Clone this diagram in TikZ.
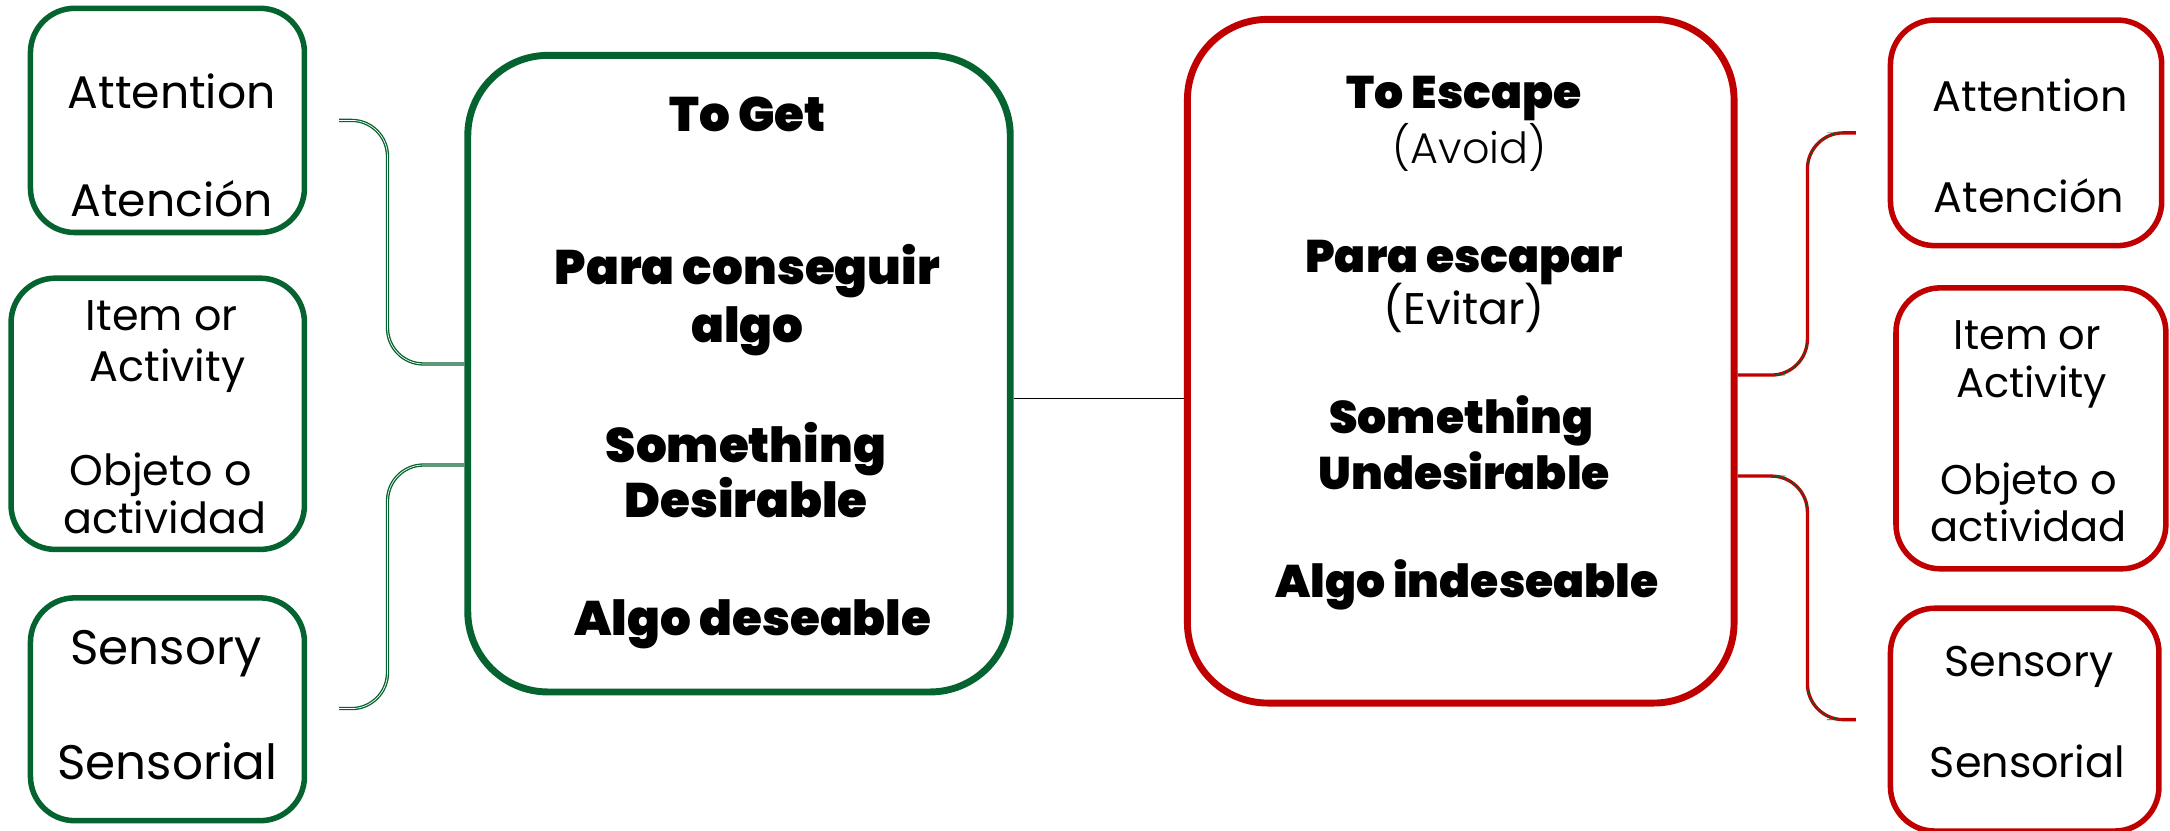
\documentclass[tikz,border=0pt]{standalone}
\usepackage{fontspec}
\setmainfont{Poppins}
\newfontfamily\heavyfont{Poppins Black}
\newfontfamily\lightfont{Poppins Light}
\definecolor{dgreen}{RGB}{4,99,47}
\definecolor{dred}{RGB}{192,0,0}
\tikzset{
  sidebox/.style={draw, line width=4pt, rounded corners=32pt, inner sep=0pt},
  mainbox/.style={draw, line width=5pt, rounded corners=58pt, inner sep=0pt},
  sidetext/.style={font=\fontsize{#1}{#1}\selectfont, text height=0.7*#1 pt, text depth=0pt, inner sep=0pt},
  sidetext/.default=33,
  headtext/.style={font=\heavyfont\fontsize{#1}{#1}\selectfont, text height=0.7*#1 pt, text depth=0pt, inner sep=0pt},
  headtext/.default=35,
  thintext/.style={font=\lightfont\fontsize{31}{37}\selectfont, text height=22pt, text depth=0pt, inner sep=0pt},
  regtext/.style={font=\fontsize{32}{37}\selectfont, text height=22.5pt, text depth=0pt, inner sep=0pt},
  gbracket/.style={draw=dgreen, line width=2.4pt, rounded corners=26pt},
  rbracket/.style={draw=dred, line width=2.4pt, rounded corners=26pt},
}
\begin{document}
\begin{tikzpicture}[x=1pt,y=-1pt]
\useasboundingbox (0,0) rectangle (1568,600);
% main boxes
\node[mainbox, draw=dgreen, minimum width=392pt, minimum height=460pt] (gbox) at (534,270) {};
\node[mainbox, draw=dred, minimum width=395pt, minimum height=494pt] (rbox) at (1055.5,261) {};
% left boxes
\node[sidebox, draw=dgreen, minimum width=198pt, minimum height=162pt] (l1) at (121,87) {};
\node[sidebox, draw=dgreen, minimum width=212pt, minimum height=196pt] (l2) at (114,299) {};
\node[sidebox, draw=dgreen, minimum width=198pt, minimum height=161pt] (l3) at (121,512.5) {};
% right boxes
\node[sidebox, draw=dred, minimum width=196pt, minimum height=163pt] (r1) at (1464,96) {};
\node[sidebox, draw=dred, minimum width=195pt, minimum height=203pt] (r2) at (1467.5,309.5) {};
\node[sidebox, draw=dred, minimum width=194pt, minimum height=161pt] (r3) at (1463,520) {};
% side texts
\node[sidetext] (l1a) at (124,67) {Attention};
\node[sidetext] (l1b) at (124,145) {Atención};
\node[sidetext=31] (l2a) at (117,228) {Item or};
\node[sidetext=31] (l2b) at (121,265) {Activity};
\node[sidetext=31] (l2c) at (116,340) {Objeto o};
\node[sidetext=31] (l2d) at (119,375) {actividad};
\node[sidetext=35] (l3a) at (120,468) {Sensory};
\node[sidetext=35] (l3b) at (121,551) {Sensorial};
\node[sidetext=31] (r1a) at (1467,70) {Attention};
\node[sidetext=31] (r1b) at (1466,143) {Atención};
\node[sidetext=30] (r2a) at (1465,242) {Item or};
\node[sidetext=30] (r2b) at (1468,277) {Activity};
\node[sidetext=30] (r2c) at (1466,347) {Objeto o};
\node[sidetext=30] (r2d) at (1466,381) {actividad};
\node[sidetext=31] (r3a) at (1466,478) {Sensory};
\node[sidetext=31] (r3b) at (1465,551) {Sensorial};
% main texts
\node[headtext] (g1) at (540,83) {To Get};
\node[headtext] (g2) at (540,193) {Para conseguir};
\node[headtext] (g3) at (540,235) {algo};
\node[headtext] (g4) at (539,322) {Something};
\node[headtext] (g5) at (539,362) {Desirable};
\node[headtext] (g6) at (544,447) {Algo deseable};
\node[headtext=33] (e1) at (1058,67) {To Escape};
\node[thintext] (e2) at (1062,107) {(Avoid)};
\node[headtext=33] (e3) at (1058,185) {Para escapar};
\node[regtext] (e4) at (1058,223) {(Evitar)};
\node[headtext=33] (e5) at (1056,302) {Something};
\node[headtext=33] (e6) at (1058,342) {Undesirable};
\node[headtext=33] (e7) at (1060,420) {Algo indeseable};
% connectors
\coordinate (gt) at (245,87);
\coordinate (gb) at (245,512);
\coordinate (rt) at (1341,96);
\coordinate (rb) at (1341,520);
\path (0,263) coordinate (gj1) (0,336) coordinate (gj2) (0,288) coordinate (mj)
      (0,271) coordinate (rj1) (0,344) coordinate (rj2);
\draw[line width=1.3pt] (gbox.east |- mj) -- (rbox.west |- mj);
\draw[gbracket] (gt) -| (280,263) -- (gj1 -| gbox.west);
\draw[gbracket] (gb) -| (280,336) -- (gj2 -| gbox.west);
\draw[white, line width=0.5pt, rounded corners=26pt] (gt) -| (280,263) -- (gj1 -| gbox.west);
\draw[white, line width=0.5pt, rounded corners=26pt] (gb) -| (280,336) -- (gj2 -| gbox.west);
\draw[rbracket] (rj1 -| rbox.east) -| (1306,96) -- (rt);
\draw[rbracket] (rj2 -| rbox.east) -| (1306,520) -- (rb);
\draw[dgreen, line width=0.5pt, rounded corners=26pt] (1290,271) -| (1306,96) -- (1320,96);
\draw[dgreen, line width=0.5pt, rounded corners=26pt] (1290,344) -| (1306,520) -- (1320,520);
\end{tikzpicture}
\end{document}
